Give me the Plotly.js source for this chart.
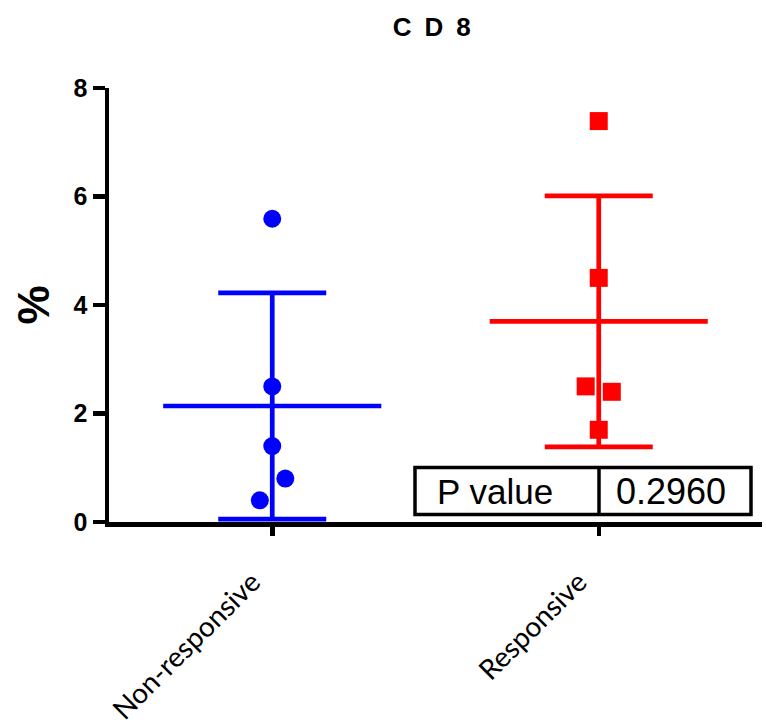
<!DOCTYPE html>
<html>
<head>
<meta charset="utf-8">
<script src="https://cdn.plot.ly/plotly-3.0.1.min.js"></script>
<style>html,body{margin:0;padding:0;background:#fff;}#chart{width:766px;height:727px;}</style>
</head>
<body>
<div id="chart"></div>
<script>
// ---- data ----
const categories = ["Non-responsive", "Responsive"];
const nonResponsive = [5.59, 2.50, 1.40, 0.80, 0.40];
const responsive = [7.39, 4.50, 2.50, 2.40, 1.70];
const nonResponsiveJitter = [0, 0, 0, 0.04, -0.038];
const responsiveJitter = [0, 0, -0.04, 0.04, 0];
const pValueLabel = "P value";
const pValue = "0.2960";
const yTicks = [0, 2, 4, 6, 8];

function mean(a) { return a.reduce((s, v) => s + v, 0) / a.length; }
function sd(a) { const m = mean(a); return Math.sqrt(a.reduce((s, v) => s + (v - m) * (v - m), 0) / (a.length - 1)); }

const groups = [
  { vals: nonResponsive, jit: nonResponsiveJitter, color: "#0000FF", symbol: "circle" },
  { vals: responsive, jit: responsiveJitter, color: "#FF0000", symbol: "square" }
];

const meanHalf = 0.334;
const traces = [];
groups.forEach((g, i) => {
  const m = mean(g.vals), s = sd(g.vals);
  traces.push({
    type: "scatter", mode: "markers", x: [i], y: [m],
    marker: { size: 1, color: g.color, opacity: 0 },
    error_y: { type: "data", array: [s], visible: true, color: g.color, thickness: 4.7, width: 54 },
    hoverinfo: "skip", showlegend: false, cliponaxis: false
  });
  traces.push({
    type: "scatter", mode: "lines", x: [i - meanHalf, i + meanHalf], y: [m, m],
    line: { color: g.color, width: 4.7 }, hoverinfo: "skip", showlegend: false
  });
});
groups.forEach((g, i) => {
  traces.push({
    type: "scatter", mode: "markers",
    x: g.vals.map((v, k) => i + g.jit[k]), y: g.vals,
    marker: { size: 18, color: g.color, symbol: g.symbol, line: { width: 0 } },
    showlegend: false, cliponaxis: false
  });
});

const px0 = 109, px1 = 762, py0 = 88, py1 = 522.5;
const pxX = v => (v - px0) / (px1 - px0);
const pxY = v => (py1 - v) / (py1 - py0);

const layout = {
  width: 766, height: 727,
  margin: { l: 109, r: 4, t: 88, b: 204.5 },
  paper_bgcolor: "#fff", plot_bgcolor: "#fff",
  showlegend: false,
  title: { text: "C\u2002D\u20028", font: { family: "Liberation Sans, Arial, sans-serif", size: 26, color: "#000", weight: "bold" },
           x: 431.7 / 766, xref: "container", xanchor: "center", y: 1 - 26.7 / 727, yref: "container", yanchor: "middle" },
  xaxis: {
    range: [-0.5, 1.5], tickvals: [0, 1], ticktext: categories, tickangle: -45,
    ticks: "outside", ticklen: 9, tickwidth: 4.5, tickcolor: "#000",
    showline: true, linewidth: 4.5, linecolor: "#000", showgrid: false, zeroline: false,
    tickfont: { family: "Lato, Carlito, Calibri, sans-serif", size: 28, color: "#000" },
    ticklabelstandoff: 19, ticklabelshift: -20
  },
  yaxis: {
    range: [0, 8], tickvals: yTicks, ticktext: yTicks.map(String),
    ticks: "outside", ticklen: 12, tickwidth: 4.5, tickcolor: "#000",
    showline: true, linewidth: 4.5, linecolor: "#000", showgrid: false, zeroline: false,
    tickfont: { family: "Liberation Sans, Arial, sans-serif", size: 25, color: "#000", weight: "bold" },
    title: { text: "%", font: { family: "Liberation Sans, Arial, sans-serif", size: 44, color: "#000", weight: "bold" }, standoff: 11 }
  },
  shapes: [
    { type: "rect", xref: "paper", yref: "paper", x0: pxX(415), x1: pxX(751), y0: pxY(515), y1: pxY(468),
      line: { color: "#000", width: 3.5 }, fillcolor: "#fff", layer: "above" },
    { type: "line", xref: "paper", yref: "paper", x0: pxX(599), x1: pxX(599), y0: pxY(515), y1: pxY(468),
      line: { color: "#000", width: 3.5 }, layer: "above" }
  ],
  annotations: [
    { text: pValueLabel, xref: "paper", yref: "paper", x: pxX(495), y: pxY(491.5), xanchor: "center", yanchor: "middle",
      showarrow: false, font: { family: "Liberation Sans, Arial, sans-serif", size: 35, color: "#000" } },
    { text: pValue, xref: "paper", yref: "paper", x: pxX(670.5), y: pxY(491.5), xanchor: "center", yanchor: "middle",
      showarrow: false, font: { family: "Liberation Sans, Arial, sans-serif", size: 36, color: "#000" } }
  ]
};

Plotly.newPlot("chart", traces, layout, { displayModeBar: false, staticPlot: true });
</script>
</body>
</html>
